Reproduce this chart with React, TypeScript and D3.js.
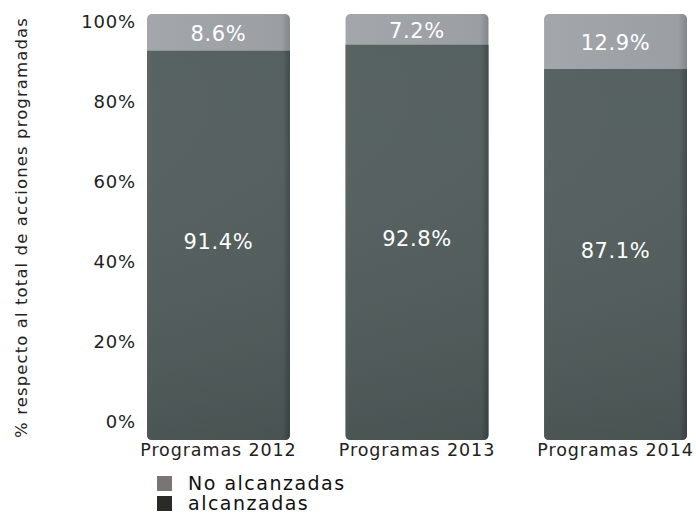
import * as d3 from 'd3';

const categories = ['Programas 2012', 'Programas 2013', 'Programas 2014'];
const alcanzadas = [91.4, 92.8, 87.1];
const noAlcanzadas = [8.6, 7.2, 12.9];
const yTicks = [0, 20, 40, 60, 80, 100];
const legendLabels = ['No alcanzadas', 'alcanzadas'];

const W = 696;
const H = 515;
const FONT = '"DejaVu Sans", sans-serif';

export default function App() {
  const x = d3.scaleBand<string>().domain(categories).range([147, 687]).paddingInner(0.28).paddingOuter(0);
  // bars and axis labels sit on slightly different vertical extents in the original
  const y = d3.scaleLinear().domain([0, 100]).range([440, 14]);
  const yAxis = d3.scaleLinear().domain([0, 100]).range([422, 22]);
  const bw = x.bandwidth();

  const lowerPath = (x0: number, ySplit: number, yBot: number) =>
    `M${x0},${ySplit} H${x0 + bw} V${yBot - 5} Q${x0 + bw},${yBot} ${x0 + bw - 5},${yBot} H${x0 + 5} Q${x0},${yBot} ${x0},${yBot - 5} Z`;

  return (
    <svg width={W} height={H} style={{ position: 'absolute', left: 0, top: 0, background: '#fff' }} fontFamily={FONT}>
      <defs>
        <linearGradient id="darkH" x1="0" x2="1" y1="0" y2="0">
          <stop offset="0%" stopColor="#56625f" />
          <stop offset="4%" stopColor="#525e5d" />
          <stop offset="95%" stopColor="#505c5b" />
          <stop offset="100%" stopColor="#3b4646" />
        </linearGradient>
        <linearGradient id="darkV" x1="0" x2="0" y1="0" y2="1">
          <stop offset="0%" stopColor="#ffffff" stopOpacity={0.03} />
          <stop offset="100%" stopColor="#000000" stopOpacity={0.1} />
        </linearGradient>
        <linearGradient id="lightH" x1="0" x2="1" y1="0" y2="0">
          <stop offset="0%" stopColor="#a3a7ac" />
          <stop offset="94%" stopColor="#9b9fa4" />
          <stop offset="100%" stopColor="#81868b" />
        </linearGradient>
      </defs>

      {/* y axis title */}
      <text
        transform={`translate(27,${(10 + 445) / 2}) rotate(-90)`}
        textAnchor="middle"
        fontSize={16.5}
        letterSpacing={1.1}
        fill="#222"
      >
        % respecto al total de acciones programadas
      </text>

      {/* y tick labels */}
      {yTicks.map(t => (
        <text key={t} x={136} y={yAxis(t)} dy="0.35em" textAnchor="end" fontSize={18} letterSpacing={0.8} fill="#222">
          {t}%
        </text>
      ))}

      {categories.map((c, i) => {
        const x0 = x(c)!;
        const yTop = y(100);
        const ySplit = y(alcanzadas[i]);
        const yBot = y(0);
        return (
          <g key={c}>
            <rect x={x0} y={yTop} width={bw} height={yBot - yTop} rx={5} fill="url(#lightH)" />
            <path d={lowerPath(x0, ySplit, yBot)} fill="url(#darkH)" />
            <path d={lowerPath(x0, ySplit, yBot)} fill="url(#darkV)" />
            <text x={x0 + bw / 2} y={(yTop + ySplit) / 2 + 1} dy="0.35em" textAnchor="middle" fontSize={21} letterSpacing={0.6} fill="#fff">
              {noAlcanzadas[i]}%
            </text>
            <text x={x0 + bw / 2} y={(ySplit + yBot) / 2 - 4} dy="0.35em" textAnchor="middle" fontSize={21} letterSpacing={0.6} fill="#fff">
              {alcanzadas[i]}%
            </text>
            <text x={x0 + bw / 2} y={456} textAnchor="middle" fontSize={17.5} letterSpacing={0.9} fill="#222">
              {c}
            </text>
          </g>
        );
      })}

      {/* legend */}
      {legendLabels.map((l, i) => (
        <g key={l} transform={`translate(157,${476 + i * 20})`}>
          <rect width={15} height={15} fill={i === 0 ? '#7a7573' : '#2a2a27'} />
          <text x={31} y={14} fontSize={19} letterSpacing={1.5} fill="#111">
            {l}
          </text>
        </g>
      ))}
    </svg>
  );
}
